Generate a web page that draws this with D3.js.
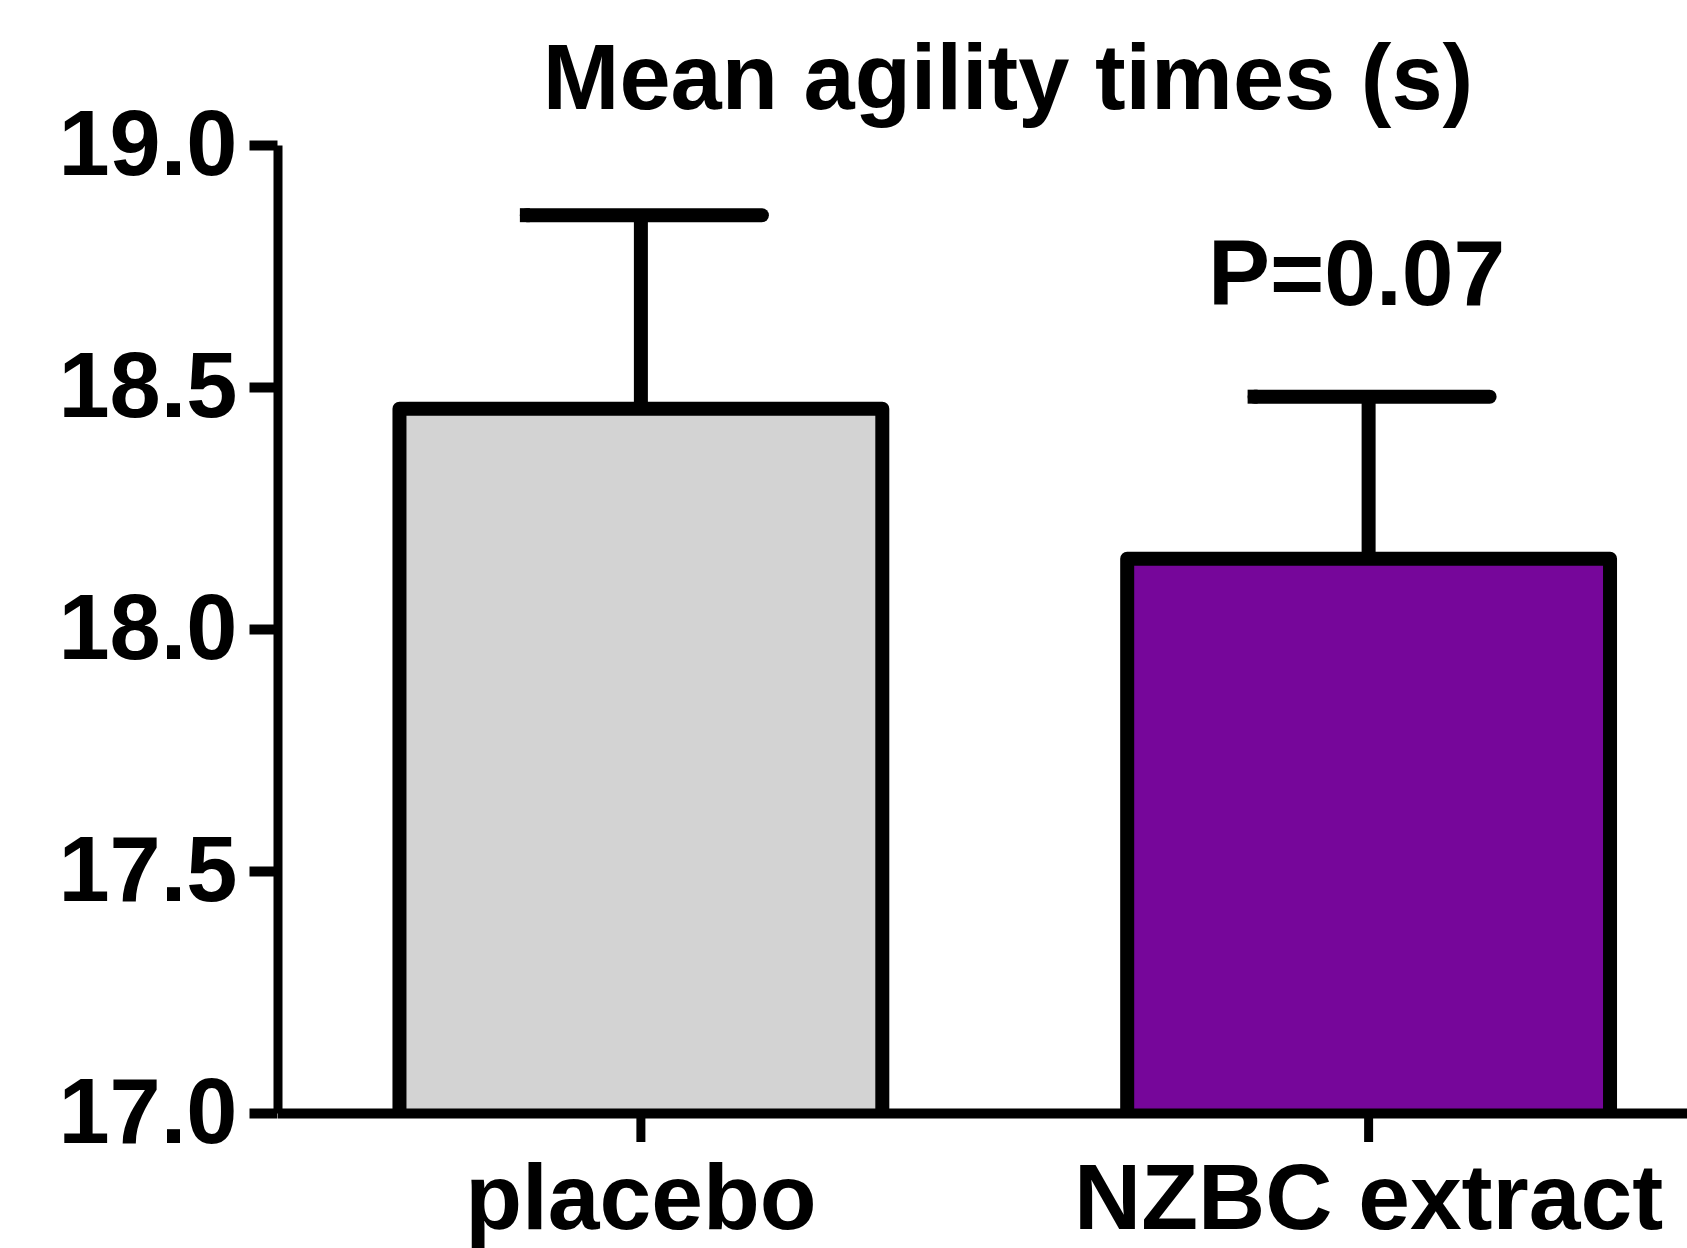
<!DOCTYPE html>
<html>
<head>
<meta charset="utf-8">
<script src="https://cdn.jsdelivr.net/npm/d3@7"></script>
<style>
  body { margin: 0; background: #fff; }
  text { font-family: "Liberation Sans", Arial, sans-serif; font-weight: bold; }
</style>
</head>
<body>
<div id="d3-container"></div>
<script>
const categories = ["placebo", "NZBC extract"];
const means = [18.455, 18.145];
const sems = [0.40, 0.335];
const barColors = ["#d3d3d3", "#76069a"];
const yTicks = [17.0, 17.5, 18.0, 18.5, 19.0];
const title = "Mean agility times (s)";
const pText = "P=0.07";
const pValueY = 18.67;

const w = 1687;
const h = 1248;
const plotLeft = 277.5;
const plotTop = 145;
const plotBottom = 1113;

const svg = d3
  .select("#d3-container")
  .append("svg")
  .attr("width", w)
  .attr("height", h)
  .attr("id", "chart");

const xScale = d3
  .scaleBand()
  .domain(categories)
  .range([plotLeft, 1732])
  .paddingInner(0.3365)
  .paddingOuter(0.1676);

const yScale = d3.scaleLinear().domain([17, 19]).range([plotBottom, plotTop]);

// error bars go under the bars
categories.forEach(function(c, i) {
  const cx = xScale(c) + xScale.bandwidth() / 2;
  const yCap = yScale(means[i] + sems[i]);
  svg.append("line")
    .attr("x1", cx).attr("x2", cx)
    .attr("y1", yScale(means[i])).attr("y2", yCap)
    .attr("stroke", "#000").attr("stroke-width", 14);
  // cap: square on the left, rounded on the right
  svg.append("path")
    .attr("d", "M" + (cx - 114) + "," + yCap + "H" + (cx + 121))
    .attr("stroke", "#000").attr("stroke-width", 14)
    .attr("stroke-linecap", "round");
  svg.append("rect")
    .attr("x", cx - 121).attr("y", yCap - 7)
    .attr("width", 10).attr("height", 14)
    .attr("fill", "#000");
});

// bars, open at the bottom
svg.selectAll(".bar")
  .data(categories)
  .join("path")
  .attr("class", "bar")
  .attr("d", function(c, i) {
    const x1 = xScale(c), x2 = xScale(c) + xScale.bandwidth();
    return "M" + x1 + "," + yScale(17) + "V" + yScale(means[i]) + "H" + x2 + "V" + yScale(17);
  })
  .attr("fill", (c, i) => barColors[i])
  .attr("stroke", "#000")
  .attr("stroke-width", 14)
  .attr("stroke-linejoin", "round");

const yAxis = d3.axisLeft(yScale)
  .tickValues(yTicks)
  .tickFormat(d3.format(".1f"))
  .tickSize(28)
  .tickSizeOuter(0)
  .tickPadding(12);

const xAxis = d3.axisBottom(xScale)
  .tickSize(29)
  .tickSizeOuter(0)
  .tickPadding(21);

const gx = svg.append("g").attr("transform", `translate(0, ${plotBottom})`).call(xAxis);
gx.select(".domain").attr("stroke-width", 10);
gx.selectAll(".tick line").attr("stroke-width", 9);
gx.selectAll(".tick text").style("font-size", "93px").attr("fill", "#000")
  .attr("font-family", null);

const gy = svg.append("g").attr("transform", `translate(${plotLeft}, 0)`).call(yAxis);
gy.select(".domain").attr("stroke-width", 9);
gy.selectAll(".tick line").attr("stroke-width", 10);
gy.selectAll(".tick text").style("font-size", "92px").attr("fill", "#000")
  .attr("font-family", null);

svg.append("text")
  .attr("x", 1008)
  .attr("y", 109)
  .style("text-anchor", "middle")
  .style("font-size", "92px")
  .text(title);

svg.append("text")
  .attr("x", xScale(categories[1]) + xScale.bandwidth() / 2 - 12)
  .attr("y", yScale(pValueY))
  .style("text-anchor", "middle")
  .style("font-size", "93px")
  .text(pText);
</script>
</body>
</html>
